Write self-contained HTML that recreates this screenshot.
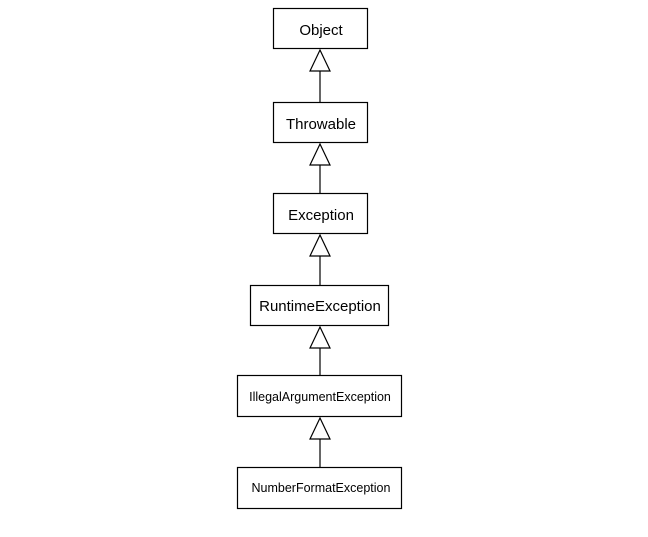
<!DOCTYPE html>
<html><head><style>
body{margin:0;background:#fff;width:648px;height:532px;overflow:hidden}
svg text{font-family:"Liberation Sans",sans-serif;fill:#000}
</style></head><body>
<svg width="648" height="532" viewBox="0 0 648 532" xmlns="http://www.w3.org/2000/svg">
<g fill="#fff" stroke="#000" stroke-width="1.2">
<rect x="273.5" y="8.5" width="94" height="40"/>
<rect x="273.5" y="102.5" width="94" height="40"/>
<rect x="273.5" y="193.5" width="94" height="40"/>
<rect x="250.5" y="285.5" width="138" height="40"/>
<rect x="237.5" y="375.5" width="164" height="41"/>
<rect x="237.5" y="467.5" width="164" height="41"/>
<path d="M320 50 L330 71 L310 71 Z M320 71 V102"/>
<path d="M320 144 L330 165 L310 165 Z M320 165 V193"/>
<path d="M320 235 L330 256 L310 256 Z M320 256 V285"/>
<path d="M320 327 L330 348 L310 348 Z M320 348 V375"/>
<path d="M320 418 L330 439 L310 439 Z M320 439 V467"/>
</g>
<g text-anchor="middle" font-size="15">
<text x="321" y="35">Object</text>
<text x="321" y="129">Throwable</text>
<text x="321" y="220">Exception</text>
<text x="320" y="311">RuntimeException</text>
<text x="320" y="401" font-size="12.5">IllegalArgumentException</text>
<text x="321" y="492" font-size="12.5">NumberFormatException</text>
</g>
</svg>
</body></html>
